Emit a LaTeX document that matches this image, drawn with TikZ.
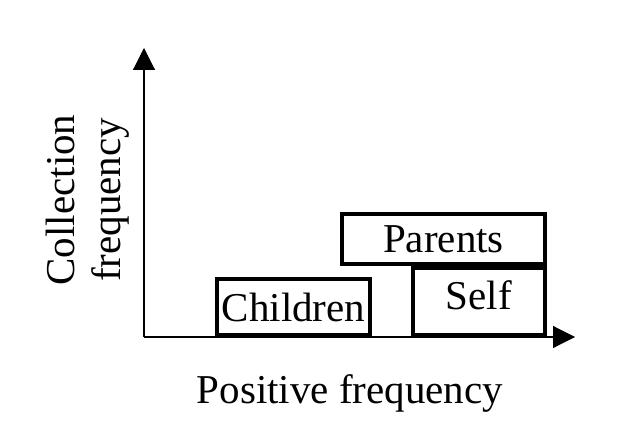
\documentclass[tikz,border=0pt]{standalone}
\usepackage{fontspec}
\setmainfont{Liberation Serif}
\usetikzlibrary{arrows.meta,positioning}
\tikzset{
    %Define standard font
    font=\fontsize{41}{46}\selectfont,
    %Define style for boxes
    boks/.style={
           rectangle,
           draw=black, line width=3.8pt,
           inner sep=0pt,
           text centered},
    % Define axis style
    akse/.style={
           -{Triangle[length=22pt,width=22pt]},
           line width=1.1pt}
}

\begin{document}
\begin{tikzpicture}[x=1pt,y=-1pt]
  \useasboundingbox (0,0) rectangle (626,438);
  % axes
  \coordinate (o) at (144,337);
  \coordinate (ytop) at (144,48);
  \coordinate (xend) at (575,337);
  \draw[akse] (o) -- (ytop);
  \draw[akse] (o) -- (xend);
  % boxes
  \node[boks, minimum width=153pt, minimum height=56pt] (children) at (293.5,307) {Children};
  \node[boks, minimum width=203pt, minimum height=50pt] (parents) at (443.5,239) {Parents};
  \node[boks, minimum width=132pt, minimum height=67pt, text height=17pt] (self) at (479,301.5) {Self};
  % axis labels
  \node[anchor=base] (xlabel) at (350,403) {Positive frequency};
  \node[rotate=90, align=center] (ylabel) at (88,200) {Collection\\frequency};
\end{tikzpicture}
\end{document}
